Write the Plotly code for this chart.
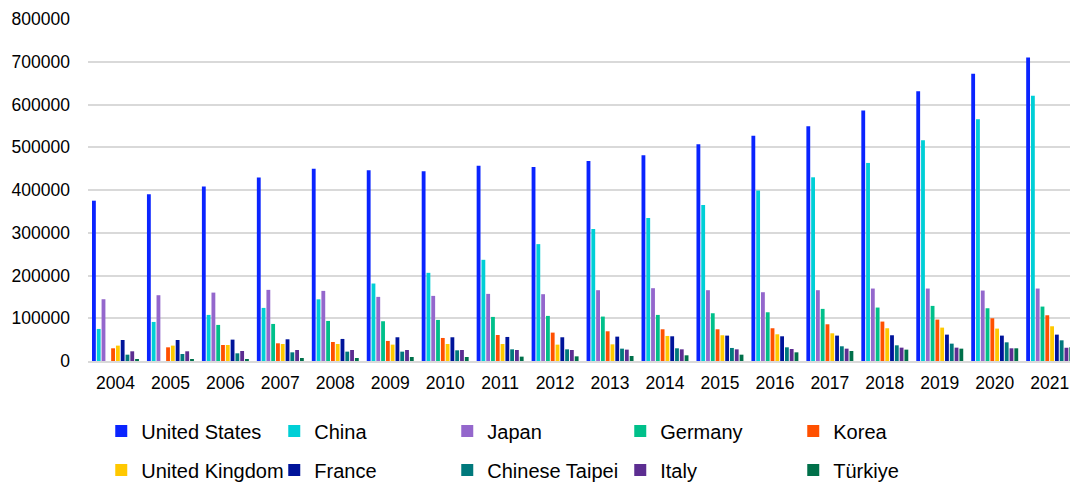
import plotly.graph_objects as go

years = [str(y) for y in range(2004, 2022)]

united_states = [375000, 390000, 408000, 429000, 450000, 446000, 444000, 457000, 454000,
                 468000, 481000, 507000, 527000, 549000, 586000, 631000, 672000, 710000]
china = [75000, 91400, 107800, 124200, 144300, 181250, 206250, 236700, 273400,
         308600, 334400, 364800, 398800, 429700, 463300, 516400, 565600, 620300]
japan = [144500, 153900, 160000, 166400, 164000, 150000, 152300, 157000, 156250,
         165600, 170300, 165600, 160900, 165600, 169500, 169500, 164800, 169500]
germany = [None, None, 84400, 86700, 93750, 93000, 96100, 103100, 105500,
           103900, 107800, 111700, 114000, 121900, 125000, 128900, 123400, 127300]
korea = [29700, 32000, 37500, 41400, 44500, 46900, 53900, 60900, 66400,
         69500, 74200, 74200, 76600, 85900, 92200, 96900, 100000, 107000]
united_kingdom = [36000, 36000, 37500, 39800, 39800, 38300, 39800, 39800, 38300,
                  39000, 58600, 60200, 62500, 64800, 76600, 78100, 75800, 81250]
france = [49200, 49200, 50000, 50800, 51600, 55500, 55500, 56250, 55500,
          57000, 57800, 59400, 57800, 59400, 60200, 61700, 59400, 61700]
chinese_taipei = [14800, 16400, 18000, 20300, 21900, 21900, 25000, 27300, 27300,
                  28900, 29700, 30500, 32000, 34400, 36700, 40600, 43700, 48400]
italy = [22700, 22700, 23400, 25800, 25800, 25800, 25800, 25800, 25800,
         26600, 27300, 27300, 28100, 28900, 31250, 31250, 29700, 31000]
turkiye = [3900, 4700, 4700, 7000, 7000, 9400, 9400, 10200, 10900,
           11700, 13300, 14800, 20300, 23400, 26600, 28900, 29700, 32000]

series = [
    ("United States", united_states, "#0A24FF", "legend"),
    ("China", china, "#00CFD6", "legend"),
    ("Japan", japan, "#9467CC", "legend"),
    ("Germany", germany, "#00C08A", "legend"),
    ("Korea", korea, "#FF5000", "legend"),
    ("United Kingdom", united_kingdom, "#FFC800", "legend2"),
    ("France", france, "#00149A", "legend2"),
    ("Chinese Taipei", chinese_taipei, "#00797C", "legend2"),
    ("Italy", italy, "#5C2D91", "legend2"),
    ("Türkiye", turkiye, "#00704A", "legend2"),
]

FONT = "Liberation Sans, Arial, sans-serif"

fig = go.Figure()
for name, vals, color, lg in series:
    fig.add_trace(go.Bar(name=name, x=years, y=vals, marker_color=color,
                         marker_line_width=0, legend=lg))

legend_common = dict(orientation="h", xanchor="left", yanchor="middle",
                     entrywidth=128, entrywidthmode="pixels",
                     font=dict(family=FONT, size=20, color="#000000"),
                     bgcolor="rgba(0,0,0,0)", traceorder="normal")

fig.update_layout(
    width=1070, height=482,
    margin=dict(l=88, r=0, t=19, b=121, autoexpand=False),
    paper_bgcolor="white", plot_bgcolor="white",
    barmode="group", bargap=0.128, bargroupgap=0.2,
    font=dict(family=FONT, size=17.5, color="#000000"),
    legend=dict(x=0.0135, y=-0.2047, **legend_common),
    legend2=dict(x=0.0135, y=-0.3187, **legend_common),
    xaxis=dict(type="category", range=[-0.5, 17.37], showgrid=False,
               showline=True, linecolor="#D9D9D9", linewidth=2,
               ticks="", tickfont=dict(size=17.5), ticklabelstandoff=5),
    yaxis=dict(range=[0, 800000], dtick=100000, tickformat="d",
               showgrid=True, gridcolor="#D9D9D9", gridwidth=2,
               zeroline=False, showline=False, ticks="",
               tickfont=dict(size=17.5), ticklabelstandoff=17),
)

fig.write_html("out.html",
               config={"displayModeBar": False},
               post_script="document.body.style.margin='0px';"
                           "document.body.style.overflow='hidden';")
